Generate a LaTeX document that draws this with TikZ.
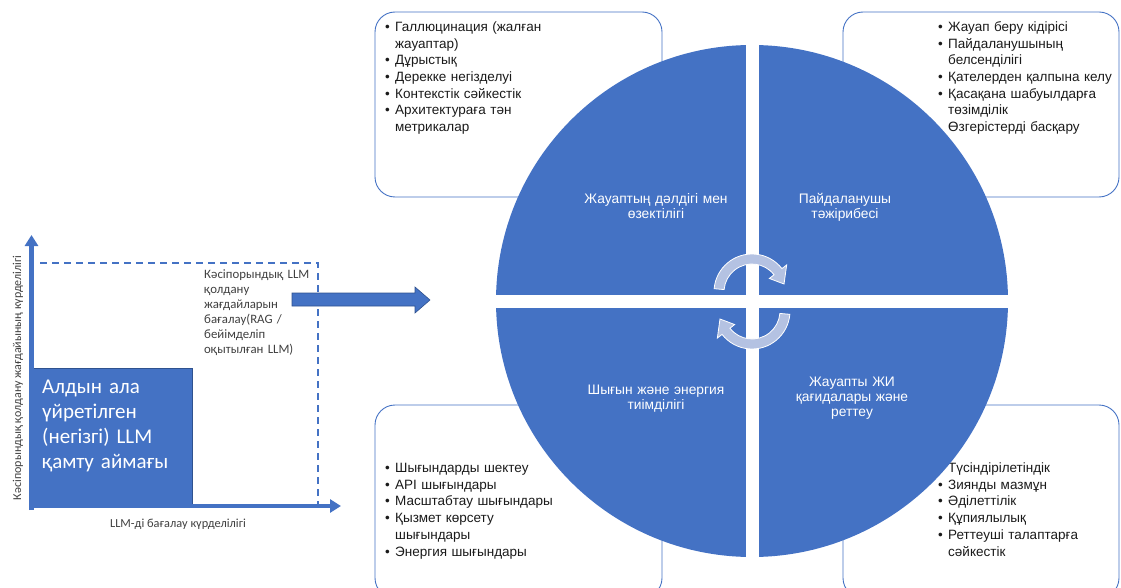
\documentclass[tikz,border=0pt]{standalone}
\usepackage{fontspec}
\setmainfont{Liberation Sans}
\newfontfamily\calfont{Carlito}
\usetikzlibrary{arrows.meta,calc}
\definecolor{mblue}{HTML}{4472C4}
\definecolor{dblue}{HTML}{2F528F}
\definecolor{arrowc}{HTML}{B4C2E2}
\definecolor{txt}{HTML}{1A1A1A}
\definecolor{gtxt}{HTML}{404040}
\newcommand{\bl}{\makebox[10pt][l]{•}}
\newcommand{\ind}{\hspace*{10pt}}
\begin{document}
\begin{tikzpicture}[x=1pt,y=-1pt,
  box/.style={draw=mblue, line width=0.9pt, rounded corners=20pt},
  listtext/.style={anchor=base west, inner sep=0pt, text width=220pt, align=left,
    font=\fontsize{13.5}{16.7}\selectfont, text=txt},
  seglabel/.style={anchor=base, inner sep=0pt, text width=180pt, align=center,
    font=\fontsize{13.8}{15}\selectfont, text=white},
  cyclearrow/.style={fill=arrowc, draw=white, line width=0.8pt},
  axis/.style={draw=mblue, line width=4.5pt, -{Triangle[width=13pt,length=11pt]}},
  chartlabel/.style={inner sep=0pt, text=gtxt},
]
\useasboundingbox (0,0) rectangle (1121,588);

% ---- boxes behind the circle
\draw[box] (375,12) rectangle (662,197);
\draw[box] (843,12) rectangle (1119,197);
\draw[box] (375,405) rectangle (662,598);
\draw[box] (843,405) rectangle (1119,598);

\node[listtext] (tl) at (385,31.5) {\bl Галлюцинация (жалған\\\ind жауаптар)\\\bl Дұрыстық\\\bl Дерекке негізделуі\\\bl Контекстік сәйкестік\\\bl Архитектураға тән\\\ind метрикалар};
\node[listtext] (tr) at (938,31.5) {\bl Жауап беру кідірісі\\\bl Пайдаланушының\\\ind белсенділігі\\\bl Қателерден қалпына келу\\\bl Қасақана шабуылдарға\\\ind төзімділік\\\ind Өзгерістерді басқару};
\node[listtext] (bl) at (385,472.5) {\bl Шығындарды шектеу\\\bl API шығындары\\\bl Масштабтау шығындары\\\bl Қызмет көрсету\\\ind шығындары\\\bl Энергия шығындары};
\node[listtext] (br) at (938,472.5) {\bl Түсіндірілетіндік\\\bl Зиянды мазмұн\\\bl Әділеттілік\\\bl Құпиялылық\\\bl Реттеуші талаптарға\\\ind сәйкестік};

% ---- circle
\fill[mblue] (752,301) circle[radius=256];
\begin{scope}
  \clip (752,301) circle[radius=257];
  \fill[white] (745.5,40) rectangle (758.5,562);
  \fill[white] (490,295) rectangle (1015,308);
\end{scope}

\node[seglabel] (s1) at (656,204) {Жауаптың дәлдігі мен\\өзектілігі};
\node[seglabel] (s2) at (845,204) {Пайдаланушы\\тәжірибесі};
\node[seglabel] (s3) at (656,394.5) {Шығын және энергия\\тиімділігі};
\node[seglabel] (s4) at (852,386.5) {Жауапты ЖИ\\қағидалары және\\реттеу};

% ---- cycle arrows
\coordinate (cu) at (752,292);
\coordinate (cd) at (752,311);
\path[cyclearrow] ($(cu)+(185:38)$) arc[start angle=185, end angle=322, radius=38]
  -- ($(cu)+(322:44)$) -- ($(cu)+(346:33)$) -- ($(cu)+(322:22)$) -- ($(cu)+(322:28)$)
  arc[start angle=322, end angle=185, radius=28] -- cycle;
\path[cyclearrow] ($(cd)+(5:38)$) arc[start angle=5, end angle=142, radius=38]
  -- ($(cd)+(142:44)$) -- ($(cd)+(166:33)$) -- ($(cd)+(142:22)$) -- ($(cd)+(142:28)$)
  arc[start angle=142, end angle=5, radius=28] -- cycle;

% ---- left chart
\draw[mblue, line width=1.8pt, dash pattern=on 7pt off 5pt] (40,263) -- (318,263) -- (318,504);
\fill[mblue] (33,368) rectangle (192,507);
\draw[dblue, line width=0.8pt] (33,368) rectangle (192,507);
\draw[axis] (31.5,510) -- (31.5,235);
\draw[axis] (29.5,506) -- (341,506);

\node[chartlabel, anchor=base west, text width=160pt, align=left, text=white,
  font=\calfont\fontsize{21}{25}\selectfont] (basebox) at (42,393)
  {Алдын ала\\үйретілген\\(негізгі) LLM\\қамту аймағы};
\node[chartlabel, anchor=base west, text width=110pt, align=left,
  font=\calfont\fontsize{12.8}{15}\selectfont] (ent) at (204,278)
  {Кәсіпорындық LLM\\қолдану\\жағдайларын\\бағалау(RAG /\\бейімделіп\\оқытылған LLM)};
\node[chartlabel, anchor=base, font=\calfont\fontsize{12.3}{13}\selectfont] (xl) at (178,527)
  {LLM-ді бағалау күрделілігі};
\node[chartlabel, rotate=90, font=\calfont\fontsize{12}{13}\selectfont] (yl) at (18,378)
  {Кәсіпорындық қолдану жағдайының күрделілігі};

% ---- big arrow
\filldraw[fill=mblue, draw=dblue, line width=0.6pt] (292,293) -- (415,293) -- (415,287) -- (430,300)
  -- (415,313) -- (415,306) -- (292,306) -- cycle;
\end{tikzpicture}
\end{document}
